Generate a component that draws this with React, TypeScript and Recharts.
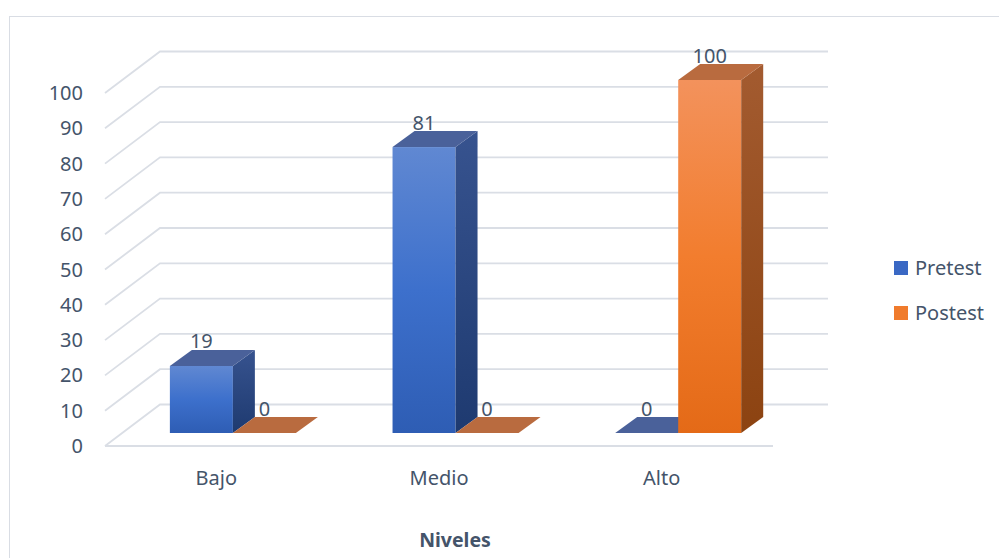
import { Bar, BarChart, CartesianGrid, LabelList, Legend, ReferenceLine, XAxis, YAxis } from "recharts";

const categories = ["Bajo", "Medio", "Alto"];
const pretest = [19, 81, 0];
const postest = [0, 0, 100];
const yTicks = [0, 10, 20, 30, 40, 50, 60, 70, 80, 90, 100];

const data = categories.map((name, i) => ({ name, Pretest: pretest[i], Postest: postest[i] }));

const text = "#44546A";
const font = "'Noto Sans', 'Open Sans', sans-serif";
const gridColor = "#dadee5";

// perspective offsets (px)
const WALL_DX = 55;
const WALL_DY = -41.5;
const FRONT_DX = 17;
const FRONT_DY = -13;
const DEPTH_DX = 22;
const DEPTH_DY = -16;

const palette = {
  Pretest: { front: "url(#blueFront)", side: "url(#blueSide)", top: "#4a619a", swatch: "#3a68c4" },
  Postest: { front: "url(#orangeFront)", side: "url(#orangeSide)", top: "#b96b3f", swatch: "#f07b2c" },
};

function makeBox(key: "Pretest" | "Postest") {
  const c = palette[key];
  return (props: any) => {
    const { x, y, width, height } = props;
    const x0 = x + FRONT_DX;
    const y0 = y + FRONT_DY;
    const h = Math.max(0, height);
    return (
      <g>
        {h > 0 && (
          <>
            <rect x={x0} y={y0} width={width} height={h} fill={c.front} />
            <polygon
              points={`${x0 + width},${y0} ${x0 + width + DEPTH_DX},${y0 + DEPTH_DY} ${x0 + width + DEPTH_DX},${y0 + h + DEPTH_DY} ${x0 + width},${y0 + h}`}
              fill={c.side}
            />
          </>
        )}
        <polygon
          points={`${x0},${y0} ${x0 + DEPTH_DX},${y0 + DEPTH_DY} ${x0 + width + DEPTH_DX},${y0 + DEPTH_DY} ${x0 + width},${y0}`}
          fill={c.top}
        />
      </g>
    );
  };
}

const ValueLabel = (props: any) => {
  const { x, y, width, value } = props;
  return (
    <text
      x={x + FRONT_DX + width / 2}
      y={y + FRONT_DY - 25}
      textAnchor="middle"
      dominantBaseline="central"
      fill={text}
      fontSize={20}
      fontFamily={font}
    >
      {value}
    </text>
  );
};

const WallLine = (props: any) => {
  const { x1, y1, x2 } = props;
  return (
    <polyline
      points={`${x1},${y1} ${x1 + WALL_DX},${y1 + WALL_DY} ${x2 + WALL_DX},${y1 + WALL_DY}`}
      fill="none"
      stroke={gridColor}
      strokeWidth={1.8}
    />
  );
};

const XTick = (props: any) => (
  <text x={props.x} y={props.y + 32} dy="0.35em" textAnchor="middle" fill={text} fontSize={20} fontFamily={font}>
    {props.payload.value}
  </text>
);

const YTick = (props: any) => (
  <text x={props.x - 22} y={props.y} dy="0.35em" textAnchor="end" fill={text} fontSize={20} fontFamily={font}>
    {props.payload.value}
  </text>
);

const LegendBox = () => (
  <div style={{ position: "relative", fontFamily: font, fontSize: 20, color: text }}>
    {(["Pretest", "Postest"] as const).map((k, i) => (
      <div key={k} style={{ position: "absolute", left: 0, top: i * 45, display: "flex", alignItems: "center", height: 14 }}>
        <span style={{ width: 14, height: 14, background: palette[k].swatch, display: "inline-block" }} />
        <span style={{ marginLeft: 7, whiteSpace: "nowrap", lineHeight: "14px" }}>{k}</span>
      </div>
    ))}
  </div>
);

export default function App() {
  return (
    <div style={{ position: "absolute", left: 0, top: 0, width: 999, height: 558, background: "#fff", overflow: "hidden" }}>
      <div
        style={{
          position: "absolute",
          left: 9,
          top: 16,
          width: 1100,
          height: 700,
          borderLeft: "1.5px solid #d9dde4",
          borderTop: "1.5px solid #d9dde4",
        }}
      />
      <BarChart
        width={999}
        height={558}
        data={data}
        margin={{ top: 93, right: 226, bottom: 52, left: 45 }}
        barCategoryGap="21.5%"
        barGap={0}
        style={{ position: "absolute", left: 0, top: 0 }}
      >
        <defs>
          <linearGradient id="blueFront" x1="0" y1="0" x2="0" y2="1">
            <stop offset="0%" stopColor="#6088d2" />
            <stop offset="50%" stopColor="#3d70cc" />
            <stop offset="100%" stopColor="#2e5db4" />
          </linearGradient>
          <linearGradient id="blueSide" x1="0" y1="0" x2="0" y2="1">
            <stop offset="0%" stopColor="#37538f" />
            <stop offset="100%" stopColor="#1e3a70" />
          </linearGradient>
          <linearGradient id="orangeFront" x1="0" y1="0" x2="0" y2="1">
            <stop offset="0%" stopColor="#f3925c" />
            <stop offset="50%" stopColor="#f27d2e" />
            <stop offset="100%" stopColor="#e46a17" />
          </linearGradient>
          <linearGradient id="orangeSide" x1="0" y1="0" x2="0" y2="1">
            <stop offset="0%" stopColor="#a35b30" />
            <stop offset="100%" stopColor="#8c4311" />
          </linearGradient>
        </defs>
        <CartesianGrid vertical={false} horizontal={WallLine} />
        <XAxis
          dataKey="name"
          height={60}
          tickLine={false}
          axisLine={false}
          tickSize={0}
          tickMargin={0}
          tick={XTick}
          label={{
            value: "Niveles",
            content: (p: any) => (
              <text
                x={p.viewBox.x + p.viewBox.width / 2 + 16}
                y={540}
                dy="0.35em"
                textAnchor="middle"
                fill={text}
                fontSize={19.5}
                fontWeight="bold"
                fontFamily={font}
              >
                Niveles
              </text>
            ),
          }}
        />
        <YAxis
          width={60}
          domain={[0, 100]}
          ticks={yTicks}
          tickLine={false}
          axisLine={false}
          tickSize={0}
          tickMargin={0}
          tick={YTick}
        />
        <ReferenceLine y={0} stroke={gridColor} strokeWidth={1.8} />
        <Legend
          layout="vertical"
          align="center"
          verticalAlign="middle"
          content={LegendBox}
          wrapperStyle={{ position: "absolute", left: 894, top: 261, width: 100, height: 70 }}
        />
        <Bar dataKey="Pretest" shape={makeBox("Pretest")} isAnimationActive={false}>
          <LabelList dataKey="Pretest" content={ValueLabel} />
        </Bar>
        <Bar dataKey="Postest" shape={makeBox("Postest")} isAnimationActive={false}>
          <LabelList dataKey="Postest" content={ValueLabel} />
        </Bar>
      </BarChart>
    </div>
  );
}
